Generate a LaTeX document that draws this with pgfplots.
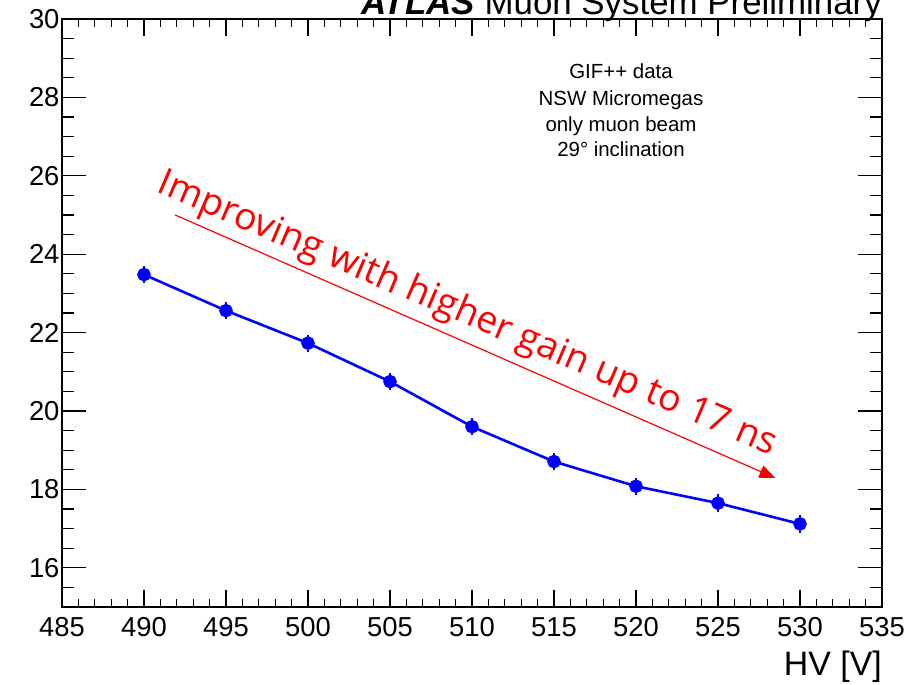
\documentclass[border=0pt]{standalone}
\usepackage{fontspec}
\setmainfont{Liberation Sans}
\newfontfamily\opensans{Open Sans}
\usepackage{pgfplots}
\usepackage{pgfplotstable}
\pgfplotsset{compat=1.18}
\usetikzlibrary{arrows.meta}

% mean time vs. high voltage
\pgfplotstableread{
hv   t      err
490  23.48  0.22
495  22.56  0.22
500  21.73  0.22
505  20.75  0.22
510  19.60  0.22
515  18.71  0.22
520  18.08  0.22
525  17.65  0.22
530  17.12  0.22
}\timing

\begin{document}
\begin{tikzpicture}
\pgfplotsset{
  frame/.style={
    scale only axis, width=820bp, height=588bp,
    at={(62bp,78bp)}, anchor=south west,
    xmin=485, xmax=535, ymin=15, ymax=30,
    axis line style={line width=1.6bp},
    tick style={line width=1.2bp, black},
    tick align=inside,
    /pgf/number format/assume math mode=true,
    tick label style={font=\fontsize{27.5}{30}\selectfont},
  }
}
% horizontal ticks
\begin{axis}[frame,
  xtick={485,490,...,535}, minor x tick num=4,
  ytick=\empty,
  x tick label style={yshift=-7bp},
  major tick length=17bp, minor tick length=8bp]
\end{axis}
% vertical ticks and data
\begin{axis}[frame,
  xtick=\empty, ytick={14,16,...,30}, minor y tick num=3,
  y tick label style={xshift=1bp},
  major tick length=24bp, minor tick length=12bp]
  \addplot[blue, line width=2.6bp, mark=*, mark size=5.5bp,
    mark options={solid},
    error bars/.cd, y dir=both, y explicit, error mark=none,
    error bar style={line width=1.8bp, blue}]
    table[x=hv, y=t, y error=err] {\timing};
  \draw[red, line width=1.2bp, -{Triangle[length=16bp,width=13bp]}]
    (axis cs:491.9,25.0) -- (axis cs:528.5,18.29);
  \node[red, anchor=base west, inner sep=0, rotate=-23.2,
    font=\opensans\fontsize{37.5}{40}\selectfont]
    at (axis cs:490.7,25.6) {Improving with higher gain up to 17 ns};
\end{axis}

\node[anchor=base east, inner sep=0, font=\fontsize{35}{37}\selectfont]
  at (882bp,670bp) {\textbf{\textit{ATLAS}} Muon System Preliminary};
\node[anchor=base east, inner sep=0, font=\fontsize{34}{36}\selectfont]
  at (882bp,10bp) {HV [V]};

\begin{scope}[font=\fontsize{20.5}{24}\selectfont]
  \node[anchor=base, inner sep=0] at (621bp,606bp) {GIF++ data};
  \node[anchor=base, inner sep=0] at (621bp,579.5bp) {NSW Micromegas};
  \node[anchor=base, inner sep=0] at (621bp,553.5bp) {only muon beam};
  \node[anchor=base, inner sep=0] at (621bp,528bp) {29° inclination};
\end{scope}

\pgfresetboundingbox
\path (0,0) rectangle (907bp,685bp);
\end{tikzpicture}
\end{document}
